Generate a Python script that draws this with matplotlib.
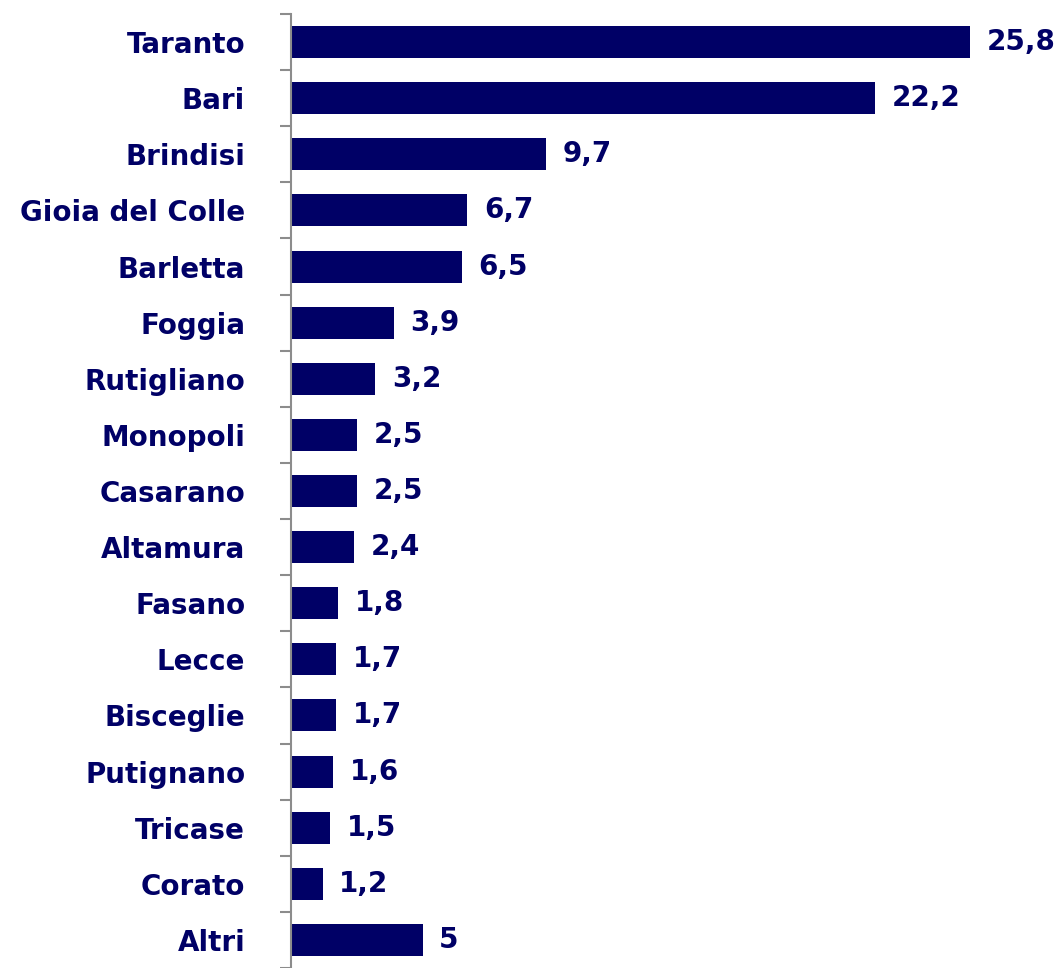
import matplotlib.pyplot as plt
import numpy as np

citta = ["Taranto", "Bari", "Brindisi", "Gioia del Colle", "Barletta", "Foggia",
         "Rutigliano", "Monopoli", "Casarano", "Altamura", "Fasano", "Lecce",
         "Bisceglie", "Putignano", "Tricase", "Corato", "Altri"]
valori = [25.8, 22.2, 9.7, 6.7, 6.5, 3.9, 3.2, 2.5, 2.5, 2.4, 1.8, 1.7, 1.7,
          1.6, 1.5, 1.2, 5]
etichette = ["25,8", "22,2", "9,7", "6,7", "6,5", "3,9", "3,2", "2,5", "2,5",
             "2,4", "1,8", "1,7", "1,7", "1,6", "1,5", "1,2", "5"]

blu = "#000066"
grigio = "#8c8c8c"

fig = plt.figure(figsize=(10.64, 9.68), dpi=100)
ax = fig.add_axes([291 / 1064, 0, 1 - 291 / 1064, 1 - 14 / 968])

y = np.arange(len(citta))
ax.barh(y, valori, height=0.57, color=blu)
ax.set_ylim(len(citta) - 0.5, -0.5)
ax.set_xlim(0, 29.37)

for yi, v, t in zip(y, valori, etichette):
    ax.annotate(t, (v, yi), xytext=(12, 0), textcoords="offset points",
                va="center", ha="left", fontsize=20, fontweight="bold", color=blu)

ax.set_yticks(y)
ax.set_yticklabels(citta, fontsize=20, fontweight="bold", color=blu)
ax.set_yticks(np.arange(len(citta) + 1) - 0.5, minor=True)
ax.tick_params(axis="y", which="major", length=0, pad=33)
ax.tick_params(axis="y", which="minor", length=8, width=1.5, color=grigio)
ax.set_xticks([])

for s in ["top", "right", "bottom"]:
    ax.spines[s].set_visible(False)
ax.spines["left"].set_color(grigio)
ax.spines["left"].set_linewidth(1.5)

plt.savefig("out.png", dpi=100)
